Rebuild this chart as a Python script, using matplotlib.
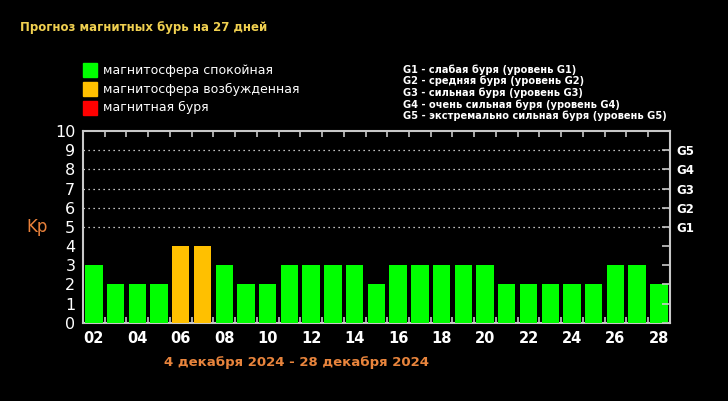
import matplotlib
matplotlib.use('Agg')
import matplotlib.pyplot as plt
import numpy as np

# data
days=list(range(2,29))
kp=[3,2,2,2,4,4,3,2,2,3,3,3,3,2,3,3,3,3,3,2,2,2,2,2,3,3,2]
tick_days=list(range(2,29,2))
g_levels=['G1','G2','G3','G4','G5']
legend_items=['магнитосфера спокойная','магнитосфера возбужденная','магнитная буря']
g_text=['G1 - слабая буря (уровень G1)',
        'G2 - средняя буря (уровень G2)',
        'G3 - сильная буря (уровень G3)',
        'G4 - очень сильная буря (уровень G4)',
        'G5 - экстремально сильная буря (уровень G5)']
title='Прогноз магнитных бурь на 27 дней'
period='4 декабря 2024 - 28 декабря 2024'

green='#00ff00'
orange='#ffc000'
red='#ff0000'
clist=[green if v<=3 else (orange if v==4 else red) for v in kp]
spine_c='#c8c8c8'

fig=plt.figure(figsize=(7.28,4.01),dpi=100,facecolor='black')
ax=fig.add_axes([0.114,0.195,0.806,0.478])
ax.set_facecolor('black')
ax.bar(days,kp,width=0.8,color=clist,edgecolor='none',zorder=3)
ax.set_xlim(1.5,28.5)
ax.set_ylim(0,10)

for s in ax.spines.values():
    s.set_color(spine_c)
    s.set_linewidth(1.5)

# dotted grid for G levels
for y in range(5,10):
    ax.axhline(y,color='white',linestyle=(0,(1,3)),linewidth=0.9,zorder=1)

ax.set_yticks(range(0,11))
ax.set_yticklabels([str(i) for i in range(0,11)],color='white',fontsize=11.5)
ax.tick_params(axis='y',left=False,pad=2)

# bar boundary ticks top and bottom
ax.set_xticks(np.arange(2.5,28.5,1),minor=True)
ax.set_xticks(tick_days)
ax.set_xticklabels(['%02d'%d for d in tick_days],color='white',fontsize=10.5,fontweight='bold')
ax.tick_params(axis='x',which='major',length=0,pad=6)
ax.tick_params(axis='x',which='minor',direction='in',top=True,bottom=True,length=4,color=spine_c,width=1.2)

ax2=ax.twinx()
ax2.set_ylim(0,10)
ax2.set_yticks(range(0,11))
ax2.set_yticklabels(['']*5+g_levels+[''],color='white',fontsize=8.5,fontweight='bold')
ax2.tick_params(axis='y',direction='in',length=6,color=spine_c,width=1.2,pad=5)
for s in ax2.spines.values():
    s.set_visible(False)

ax.text(-0.06,0.5,'Kp',transform=ax.transAxes,color='#e8803a',fontsize=12,ha='right',va='center')

fig.text(0.027,0.932,title,color='#f0d050',fontsize=8.5,fontweight='bold',va='center')

leg_c=[green,orange,red]
for i in range(3):
    y=0.825-i*0.047
    fig.patches.append(plt.Rectangle((0.114,y-0.018),0.019,0.036,transform=fig.transFigure,color=leg_c[i],figure=fig))
    fig.text(0.141,y,legend_items[i],color='white',fontsize=9,va='center')

for i in range(5):
    fig.text(0.553,0.827-i*0.029,g_text[i],color='white',fontsize=7.1,fontweight='bold',va='center')

fig.text(0.407,0.097,period,color='#e8843c',fontsize=9.5,fontweight='bold',ha='center',va='center')

plt.savefig('out.png',dpi=100,facecolor='black')
